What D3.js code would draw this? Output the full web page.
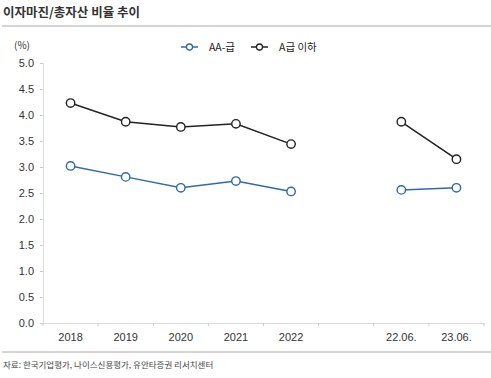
<!DOCTYPE html>
<html>
<head>
<meta charset="utf-8">
<script src="https://cdn.jsdelivr.net/npm/d3@7"></script>
<style>
body { margin: 0; background: #fff; }
text { font-family: "Noto Sans CJK KR", "Noto Sans", sans-serif; }
</style>
</head>
<body>
<div id="container"></div>
<script>
var w = 491;
var h = 378;

// data
var categories = ['2018', '2019', '2020', '2021', '2022', '', '22.06.', '23.06.'];
var aaValues = [3.02, 2.81, 2.60, 2.73, 2.53, null, 2.56, 2.60];
var aBelowValues = [4.23, 3.87, 3.77, 3.83, 3.44, null, 3.87, 3.15];
var yTicks = [0, 0.5, 1, 1.5, 2, 2.5, 3, 3.5, 4, 4.5, 5];
var seriesNames = ['AA-급', 'A급 이하'];
var seriesColors = ['#2f6aa8', '#222222'];

var svg = d3.select('#container')
    .append('svg')
    .attr('width', w)
    .attr('height', h);

//title
svg.append('text')
    .attr('x', 3)
    .attr('y', 17)
    .text('이자마진/총자산 비율 추이')
    .style('font-size', '12.5px')
    .style('font-weight', 'bold')
    .style('fill', '#333');

svg.append('line')
    .attr('x1', 2).attr('x2', 491)
    .attr('y1', 26).attr('y2', 26)
    .attr('stroke', '#aaa')
    .attr('stroke-width', 1);

svg.append('line')
    .attr('x1', 2).attr('x2', 491)
    .attr('y1', 352).attr('y2', 352)
    .attr('stroke', '#aaa')
    .attr('stroke-width', 1);

svg.append('text')
    .attr('x', 3)
    .attr('y', 368)
    .text('자료: 한국기업평가, 나이스신용평가, 유안타증권 리서치센터')
    .style('font-size', '8.5px')
    .style('fill', '#444');

// scales
var x = d3.scaleBand()
    .domain(d3.range(categories.length))
    .range([43, 484]);

var y = d3.scaleLinear()
    .domain([0, 5])
    .range([323, 63]);

//y axis
var yAxis = svg.append('g')
    .attr('transform', 'translate(43,0)')
    .call(d3.axisLeft(y).tickValues(yTicks).tickFormat(d3.format('.1f')).tickSize(3).tickPadding(6));
yAxis.select('.domain').attr('stroke', '#ddd');
yAxis.selectAll('.tick line').attr('stroke', '#ccc');
yAxis.selectAll('text').style('font-size', '11px').style('fill', '#333')
    .style('font-family', '"Liberation Sans", Arial, sans-serif');

//x axis
var xAxis = svg.append('g')
    .attr('transform', 'translate(0,323)')
    .call(d3.axisBottom(x).tickFormat(function(i) { return categories[i]; }).tickSize(0).tickPadding(10));
xAxis.select('.domain').attr('stroke', '#ddd');
xAxis.selectAll('text').style('font-size', '11px').style('fill', '#333')
    .style('font-family', '"Liberation Sans", Arial, sans-serif');

// ticks between categories
svg.append('g').selectAll('line')
    .data(d3.range(categories.length + 1))
    .enter()
    .append('line')
    .attr('x1', function(i) { return x.range()[0] + i * x.step(); })
    .attr('x2', function(i) { return x.range()[0] + i * x.step(); })
    .attr('y1', 323).attr('y2', 326)
    .attr('stroke', '#ccc');

//unit label
svg.append('text')
    .attr('x', 14)
    .attr('y', 49)
    .text('(%)')
    .style('font-size', '10px')
    .style('fill', '#333');

//lines and markers
var cx = function(d, i) { return x(i) + x.bandwidth() / 2; };
var line = d3.line()
    .defined(function(d) { return d != null; })
    .x(cx)
    .y(function(d) { return y(d); });

[aaValues, aBelowValues].forEach(function(vals, k) {
    svg.append('path')
        .datum(vals)
        .attr('fill', 'none')
        .attr('stroke', seriesColors[k])
        .attr('stroke-width', 1.5)
        .attr('d', line);

    svg.append('g').selectAll('circle')
        .data(vals.map(function(v, i) { return { v: v, i: i }; }).filter(function(d) { return d.v != null; }))
        .enter()
        .append('circle')
        .attr('cx', function(d) { return cx(d.v, d.i); })
        .attr('cy', function(d) { return y(d.v); })
        .attr('r', 4.2)
        .attr('fill', '#fff')
        .attr('stroke', seriesColors[k])
        .attr('stroke-width', 1.4);
});

//legend
var legendX = [181, 251];
seriesNames.forEach(function(name, k) {
    var g = svg.append('g').attr('transform', 'translate(' + legendX[k] + ',47)');
    g.append('line')
        .attr('x1', 0).attr('x2', 17)
        .attr('y1', 0).attr('y2', 0)
        .attr('stroke', seriesColors[k])
        .attr('stroke-width', 1.5);
    g.append('circle')
        .attr('cx', 8.5).attr('cy', 0).attr('r', 3)
        .attr('fill', '#fff')
        .attr('stroke', seriesColors[k])
        .attr('stroke-width', 1.3);
    g.append('text')
        .attr('x', 28)
        .attr('y', 4)
        .text(name)
        .style('font-size', '10.5px')
        .style('fill', '#222');
});
</script>
</body>
</html>
